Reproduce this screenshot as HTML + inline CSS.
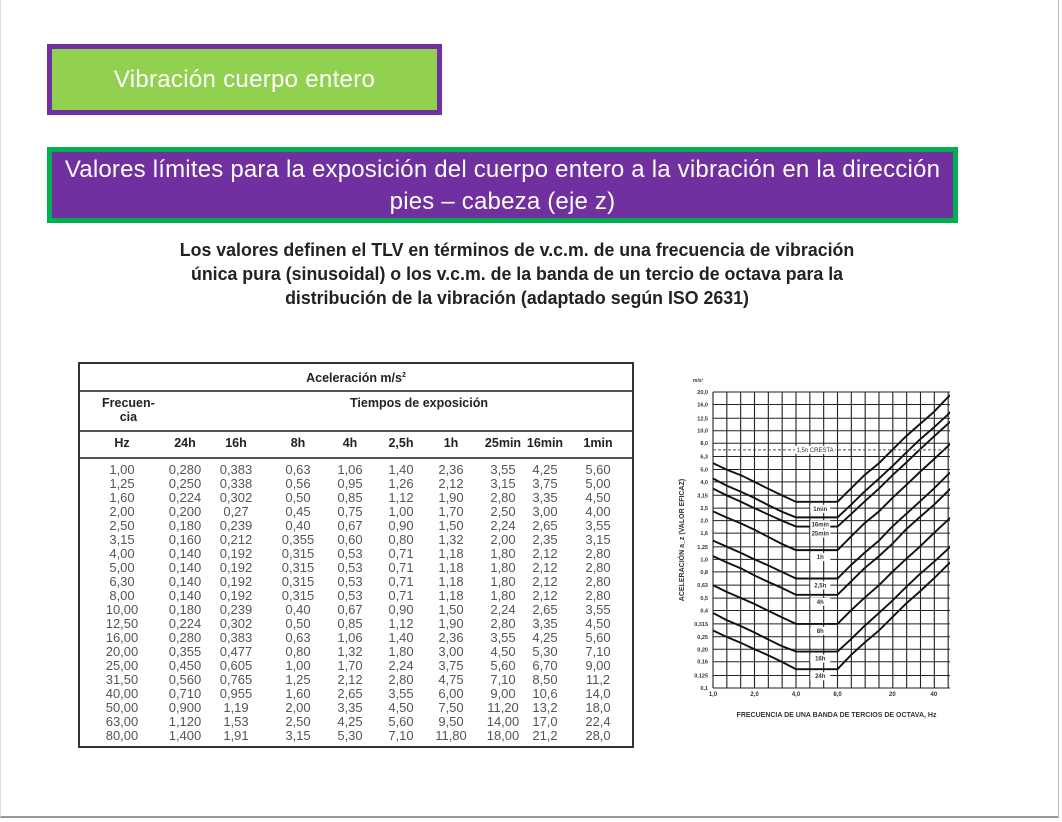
<!DOCTYPE html>
<html><head><meta charset="utf-8"><style>
body{margin:0;width:1062px;height:822px;background:#fff;position:relative;overflow:hidden;font-family:"Liberation Sans",sans-serif}
.abs{position:absolute}
#frame{left:0;top:0;width:1059px;height:818px;border-right:1px solid #bbb;border-bottom:2px solid #999;border-left:1px solid #ddd;box-sizing:border-box}
#b1{left:47px;top:44px;width:395px;height:71px;background:#92d050;border:5px solid #7030a0;box-sizing:border-box;color:#fff;font-size:24px;text-align:center;line-height:61px;letter-spacing:0.3px}
#b2{left:47px;top:147px;width:911px;height:76px;background:#7030a0;border:5px solid #00b050;box-sizing:border-box;color:#fff;font-size:24px;text-align:center;line-height:32px;padding-top:2px;letter-spacing:0.2px}
#sub{left:60px;top:238px;width:914px;text-align:center;font-weight:bold;font-size:18.5px;line-height:24px;color:#222;transform:scaleX(0.96)}
#tbl{left:78px;top:362px;width:556px;height:386px;border:2px solid #333;box-sizing:border-box}
.hl{position:absolute;left:0;width:100%;border-top:2px solid #555}
.c{position:absolute;text-align:center;width:60px;font-size:13px;color:#555}
.h{font-weight:bold;color:#222;font-size:12.5px}
</style></head><body>
<div id="frame" class="abs"></div>
<div id="b1" class="abs">Vibración cuerpo entero</div>
<div id="b2" class="abs">Valores límites para la exposición del cuerpo entero a la vibración en la dirección<br>pies – cabeza (eje z)</div>
<div id="sub" class="abs">Los valores definen el TLV en términos de v.c.m. de una frecuencia de vibración<br>única pura (sinusoidal) o los v.c.m. de la banda de un tercio de octava para la<br>distribución de la vibración (adaptado según ISO 2631)</div>
<div id="tbl" class="abs">
<div class="abs h" style="left:0;width:552px;text-align:center;top:7px">Aceleración m/s<sup style="font-size:7px">2</sup></div>
<div class="hl" style="top:26px"></div>
<div class="abs h" style="left:22px;top:32px;text-align:center;line-height:14px">Frecuen-<br>cia</div>
<div class="abs h" style="left:270px;top:32px">Tiempos de exposición</div>
<div class="hl" style="top:66px"></div>
<div class="hl" style="top:93px"></div>
</div>
<svg id="chart" class="abs" style="left:660px;top:360px" width="300" height="390"></svg>
<script>
const freqs=[1,1.25,1.6,2,2.5,3.15,4,5,6.3,8,10,12.5,16,20,25,31.5,40,50,63,80];
const freqLabels=["1,00","1,25","1,60","2,00","2,50","3,15","4,00","5,00","6,30","8,00","10,00","12,50","16,00","20,00","25,00","31,50","40,00","50,00","63,00","80,00"];
const seriesNames=["24h","16h","8h","4h","2,5h","1h","25min","16min","1min"];
const s24h=[0.280,0.250,0.224,0.200,0.180,0.160,0.140,0.140,0.140,0.140,0.180,0.224,0.280,0.355,0.450,0.560,0.710,0.900,1.120,1.400];
const s16h=[0.383,0.338,0.302,0.27,0.239,0.212,0.192,0.192,0.192,0.192,0.239,0.302,0.383,0.477,0.605,0.765,0.955,1.19,1.53,1.91];
const s8h=[0.63,0.56,0.50,0.45,0.40,0.355,0.315,0.315,0.315,0.315,0.40,0.50,0.63,0.80,1.00,1.25,1.60,2.00,2.50,3.15];
const s4h=[1.06,0.95,0.85,0.75,0.67,0.60,0.53,0.53,0.53,0.53,0.67,0.85,1.06,1.32,1.70,2.12,2.65,3.35,4.25,5.30];
const s25h=[1.40,1.26,1.12,1.00,0.90,0.80,0.71,0.71,0.71,0.71,0.90,1.12,1.40,1.80,2.24,2.80,3.55,4.50,5.60,7.10];
const s1h=[2.36,2.12,1.90,1.70,1.50,1.32,1.18,1.18,1.18,1.18,1.50,1.90,2.36,3.00,3.75,4.75,6.00,7.50,9.50,11.80];
const s25m=[3.55,3.15,2.80,2.50,2.24,2.00,1.80,1.80,1.80,1.80,2.24,2.80,3.55,4.50,5.60,7.10,9.00,11.20,14.00,18.00];
const s16m=[4.25,3.75,3.35,3.00,2.65,2.35,2.12,2.12,2.12,2.12,2.65,3.35,4.25,5.30,6.70,8.50,10.6,13.2,17.0,21.2];
const s1m=[5.60,5.00,4.50,4.00,3.55,3.15,2.80,2.80,2.80,2.80,3.55,4.50,5.60,7.10,9.00,11.2,14.0,18.0,22.4,28.0];
const series=[s24h,s16h,s8h,s4h,s25h,s1h,s25m,s16m,s1m];
const seriesText=[
["0,280","0,250","0,224","0,200","0,180","0,160","0,140","0,140","0,140","0,140","0,180","0,224","0,280","0,355","0,450","0,560","0,710","0,900","1,120","1,400"],
["0,383","0,338","0,302","0,27","0,239","0,212","0,192","0,192","0,192","0,192","0,239","0,302","0,383","0,477","0,605","0,765","0,955","1,19","1,53","1,91"],
["0,63","0,56","0,50","0,45","0,40","0,355","0,315","0,315","0,315","0,315","0,40","0,50","0,63","0,80","1,00","1,25","1,60","2,00","2,50","3,15"],
["1,06","0,95","0,85","0,75","0,67","0,60","0,53","0,53","0,53","0,53","0,67","0,85","1,06","1,32","1,70","2,12","2,65","3,35","4,25","5,30"],
["1,40","1,26","1,12","1,00","0,90","0,80","0,71","0,71","0,71","0,71","0,90","1,12","1,40","1,80","2,24","2,80","3,55","4,50","5,60","7,10"],
["2,36","2,12","1,90","1,70","1,50","1,32","1,18","1,18","1,18","1,18","1,50","1,90","2,36","3,00","3,75","4,75","6,00","7,50","9,50","11,80"],
["3,55","3,15","2,80","2,50","2,24","2,00","1,80","1,80","1,80","1,80","2,24","2,80","3,55","4,50","5,60","7,10","9,00","11,20","14,00","18,00"],
["4,25","3,75","3,35","3,00","2,65","2,35","2,12","2,12","2,12","2,12","2,65","3,35","4,25","5,30","6,70","8,50","10,6","13,2","17,0","21,2"],
["5,60","5,00","4,50","4,00","3,55","3,15","2,80","2,80","2,80","2,80","3,55","4,50","5,60","7,10","9,00","11,2","14,0","18,0","22,4","28,0"]];
const yTicks=[0.1,0.125,0.16,0.2,0.25,0.315,0.4,0.5,0.63,0.8,1,1.25,1.6,2,2.5,3.15,4,5,6.3,8,10,12.5,16,20];
const yTickLabels=["0,1","0,125","0,16","0,20","0,25","0,315","0,4","0,5","0,63","0,8","1,0","1,25","1,6","2,0","2,5","3,15","4,0","5,0","6,3","8,0","10,0","12,5","16,0","20,0"];
const xTicks=[1,2,4,8,20,40];
const xTickLabels=["1,0","2,0","4,0","8,0","20","40"];

const tbl=document.getElementById('tbl');
const colX=[42,105,156,218,270,321,371,423,465,518];
const heads=["Hz"].concat(seriesNames);
heads.forEach((t,i)=>{const d=document.createElement('div');d.className='c h';d.style.left=(colX[i]-30)+'px';d.style.top='72px';d.textContent=t;

tbl.appendChild(d);});
freqLabels.forEach((f,r)=>{const top=98+r*14;
 const cells=[f].concat(seriesText.map(s=>s[r]));
 cells.forEach((t,i)=>{const d=document.createElement('div');d.className='c';d.style.left=(colX[i]-30)+'px';d.style.top=top+'px';d.textContent=t;
 
 tbl.appendChild(d);});});

const NS='http://www.w3.org/2000/svg',svg=document.getElementById('chart');
const L=53,R=290,T=32,B=328,pxOct=41.5;
const xs=f=>L+Math.log2(f)*pxOct;
const ys=v=>B-(Math.log10(v/0.1)/Math.log10(200))*(B-T);
function el(tag,a,name,txt){const e=document.createElementNS(NS,tag);for(const k in a)e.setAttribute(k,a[k]);


if(txt!==undefined)e.textContent=txt;svg.appendChild(e);return e;}
const clip=document.createElementNS(NS,'clipPath');clip.id='cp';const cr=document.createElementNS(NS,'rect');
cr.setAttribute('x',L);cr.setAttribute('y',T);cr.setAttribute('width',R-L);cr.setAttribute('height',B-T);clip.appendChild(cr);svg.appendChild(clip);
for(let k=0;k<=18;k++){const x=L+k*pxOct/3;if(x<=R+0.5)el('line',{x1:x,x2:x,y1:T,y2:B,stroke:'#222','stroke-width':1.1},'grid-v');}
yTicks.forEach((v,i)=>{const y=ys(v);el('line',{x1:L,x2:R,y1:y,y2:y,stroke:'#222','stroke-width':1},'grid-h');
 el('text',{x:L-5,y:y+2,'text-anchor':'end','font-size':5.5,'font-weight':'bold',fill:'#333'},'y-tick-label',yTickLabels[i]);});
xTicks.forEach((v,i)=>el('text',{x:xs(v),y:B+8,'text-anchor':'middle','font-size':6,'font-weight':'bold',fill:'#333'},'x-tick-label',xTickLabels[i]));
series.forEach((s,j)=>{const pts=s.map((v,i)=>xs(freqs[i])+','+ys(v)).join(' ');
 el('polyline',{points:pts,fill:'none',stroke:'#111','stroke-width':1.9,'clip-path':'url(#cp)'},'curve-'+seriesNames[j]);
 const lx=xs(6),ly=ys(s[7])+9;
 el('rect',{x:lx-10,y:ly-6,width:20,height:8,fill:'#fff'},'curve-label-bg');
 el('text',{x:lx,y:ly,'text-anchor':'middle','font-size':6,'font-weight':'bold',fill:'#333'},'curve-label',seriesNames[j]);});
el('line',{x1:L,x2:R,y1:ys(7.1),y2:ys(7.1),stroke:'#555','stroke-dasharray':'3,2'},'crest-line');
el('rect',{x:xs(5.5)-20,y:ys(7.1)-4,width:40,height:8,fill:'#fff'},'crest-label-bg');
el('text',{x:xs(5.5),y:ys(7.1)+2,'text-anchor':'middle','font-size':6,fill:'#333'},'crest-label','1,5n CRESTA');
el('text',{x:L-20,y:T-10,'font-size':5,'font-weight':'bold',fill:'#333'},'y-unit','m/s²');
el('text',{x:0,y:0,'font-size':7,'font-weight':'bold',fill:'#333',transform:`translate(24,${(T+B)/2}) rotate(-90)`,'text-anchor':'middle'},'y-axis-title','ACELERACIÓN  a_z  (VALOR EFICAZ)');
el('text',{x:(L+R)/2+5,y:B+29,'font-size':7,'font-weight':'bold',fill:'#333','text-anchor':'middle'},'x-axis-title','FRECUENCIA DE UNA BANDA DE TERCIOS DE OCTAVA, Hz');
</script>
</body></html>
